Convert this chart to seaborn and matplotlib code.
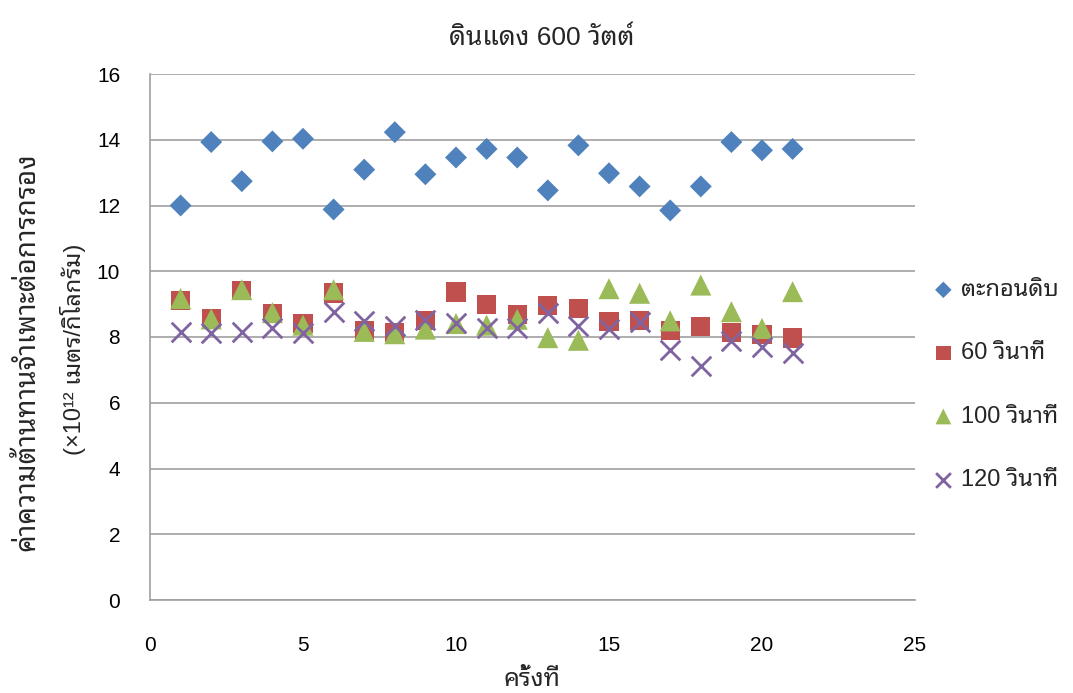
import numpy as np
import pandas as pd
import matplotlib
matplotlib.use("Agg")
import matplotlib.pyplot as plt
import seaborn as sns
from matplotlib import font_manager
from matplotlib.ft2font import FT2Font

# ---------------- data ----------------
runs = list(range(1, 22))
raw = [12.0, 13.93, 12.74, 13.95, 14.03, 11.88, 13.09, 14.23, 12.95, 13.46, 13.72,
       13.46, 12.46, 13.83, 12.98, 12.58, 11.85, 12.58, 13.93, 13.68, 13.72]
s60 = [9.10, 8.55, 9.41, 8.71, 8.40, 9.34, 8.19, 8.14, 8.51, 9.37, 8.98,
       8.68, 8.95, 8.86, 8.48, 8.51, 8.20, 8.32, 8.14, 8.08, 7.97]
s100 = [9.17, 8.55, 9.44, 8.74, 8.36, 9.44, 8.17, 8.10, 8.24, 8.41, 8.36,
        8.54, 7.98, 7.90, 9.47, 9.33, 8.49, 9.58, 8.77, 8.26, 9.38]
s120 = [8.14, 8.12, 8.14, 8.27, 8.12, 8.75, 8.50, 8.32, 8.53, 8.43, 8.27,
        8.27, 8.73, 8.32, 8.25, 8.45, 7.61, 7.13, 7.87, 7.70, 7.52]
series_names = ["ตะกอนดิบ", "60 วินาที", "100 วินาที", "120 วินาที"]
title = "ดินแดง 600 วัตต์"
xlabel = "ครั้งที่"
ylabel_line1 = "ค่าความต้านทานจำเพาะต่อการกรอง"
ylabel_line2 = "(×10¹² เมตร/กิโลกรัม)"

# ---------------- fonts ----------------
thai_fonts = []
for f in font_manager.fontManager.ttflist:
    try:
        cm = FT2Font(f.fname).get_charmap()
    except Exception:
        continue
    if 0x0E01 in cm and 0x0E34 in cm:
        thai_fonts.append(f.name)
sns.set_theme(style="white")
thai = None
for p in ["Tahoma", "Arial Unicode MS", "Noto Sans Thai Looped", "Noto Sans Thai",
          "Loma", "Garuda", "Umpush"]:
    if p in thai_fonts:
        thai = p
        break
if thai is None and thai_fonts:
    thai = thai_fonts[0]
fams = ["Liberation Sans"] + ([thai] if thai else []) + ["DejaVu Sans"]
plt.rcParams["font.family"] = fams

# ---------------- plot ----------------
fig = plt.figure(figsize=(10.73, 6.93), dpi=100)
W, H = 1073.0, 693.0
ax = fig.add_axes([150 / W, 1 - 600 / H, 765 / W, 526 / H])

colors = ["#4F81BD", "#C0504D", "#9BBB59", "#8064A2"]
markers = ["D", "s", "^", "x"]
sizes = [125, 190, 230, 200]
values = [raw, s60, s100, s120]

for name, vals, c, m, s in zip(series_names, values, colors, markers, sizes):
    df = pd.DataFrame({"run": runs, "val": vals})
    if m == "x":
        sns.scatterplot(data=df, x="run", y="val", ax=ax, marker=m, color=c,
                        s=s, linewidth=2.0, label=name, zorder=3)
    else:
        sns.scatterplot(data=df, x="run", y="val", ax=ax, marker=m, color=c,
                        s=s, edgecolor="none", linewidth=0, label=name, zorder=3)

ax.set_xlim(0, 25)
ax.set_ylim(0, 16)
ax.set_xticks(np.arange(0, 26, 5))
ax.set_yticks(np.arange(0, 17, 2))
ax.yaxis.grid(True, color="#A0A0A0", linewidth=1.2)
ax.xaxis.grid(False)
ax.set_axisbelow(True)
for sp in ["top", "right"]:
    ax.spines[sp].set_visible(False)
for sp in ["left", "bottom"]:
    ax.spines[sp].set_color("#A0A0A0")
    ax.spines[sp].set_linewidth(1.2)
ax.tick_params(axis="both", which="major", labelsize=15, labelcolor="#000000",
               width=1.2, direction="out", color="#A0A0A0")
ax.tick_params(axis="x", length=8, pad=18)
ax.tick_params(axis="y", length=6.5, pad=15)
ax.set_xlabel("")
ax.set_ylabel("")

fig.text(542 / W, 1 - 38 / H, title, fontsize=19, ha="center", va="center")
fig.text(532 / W, 1 - 679 / H, xlabel, fontsize=18, ha="center", va="center")
fig.text(27 / W, 1 - 352 / H, ylabel_line1, fontsize=20, rotation=90,
         ha="center", va="center")
fig.text(73 / W, 1 - 349 / H, ylabel_line2, fontsize=17, rotation=90,
         ha="center", va="center")

leg = ax.legend(loc="center left", bbox_to_anchor=(1.0, (600 - 385) / 526.0),
                frameon=False, fontsize=17, labelspacing=1.75, handletextpad=0.25,
                handlelength=1.0, markerscale=0.75, borderaxespad=0.3)

fig.savefig("out.png", dpi=100)
